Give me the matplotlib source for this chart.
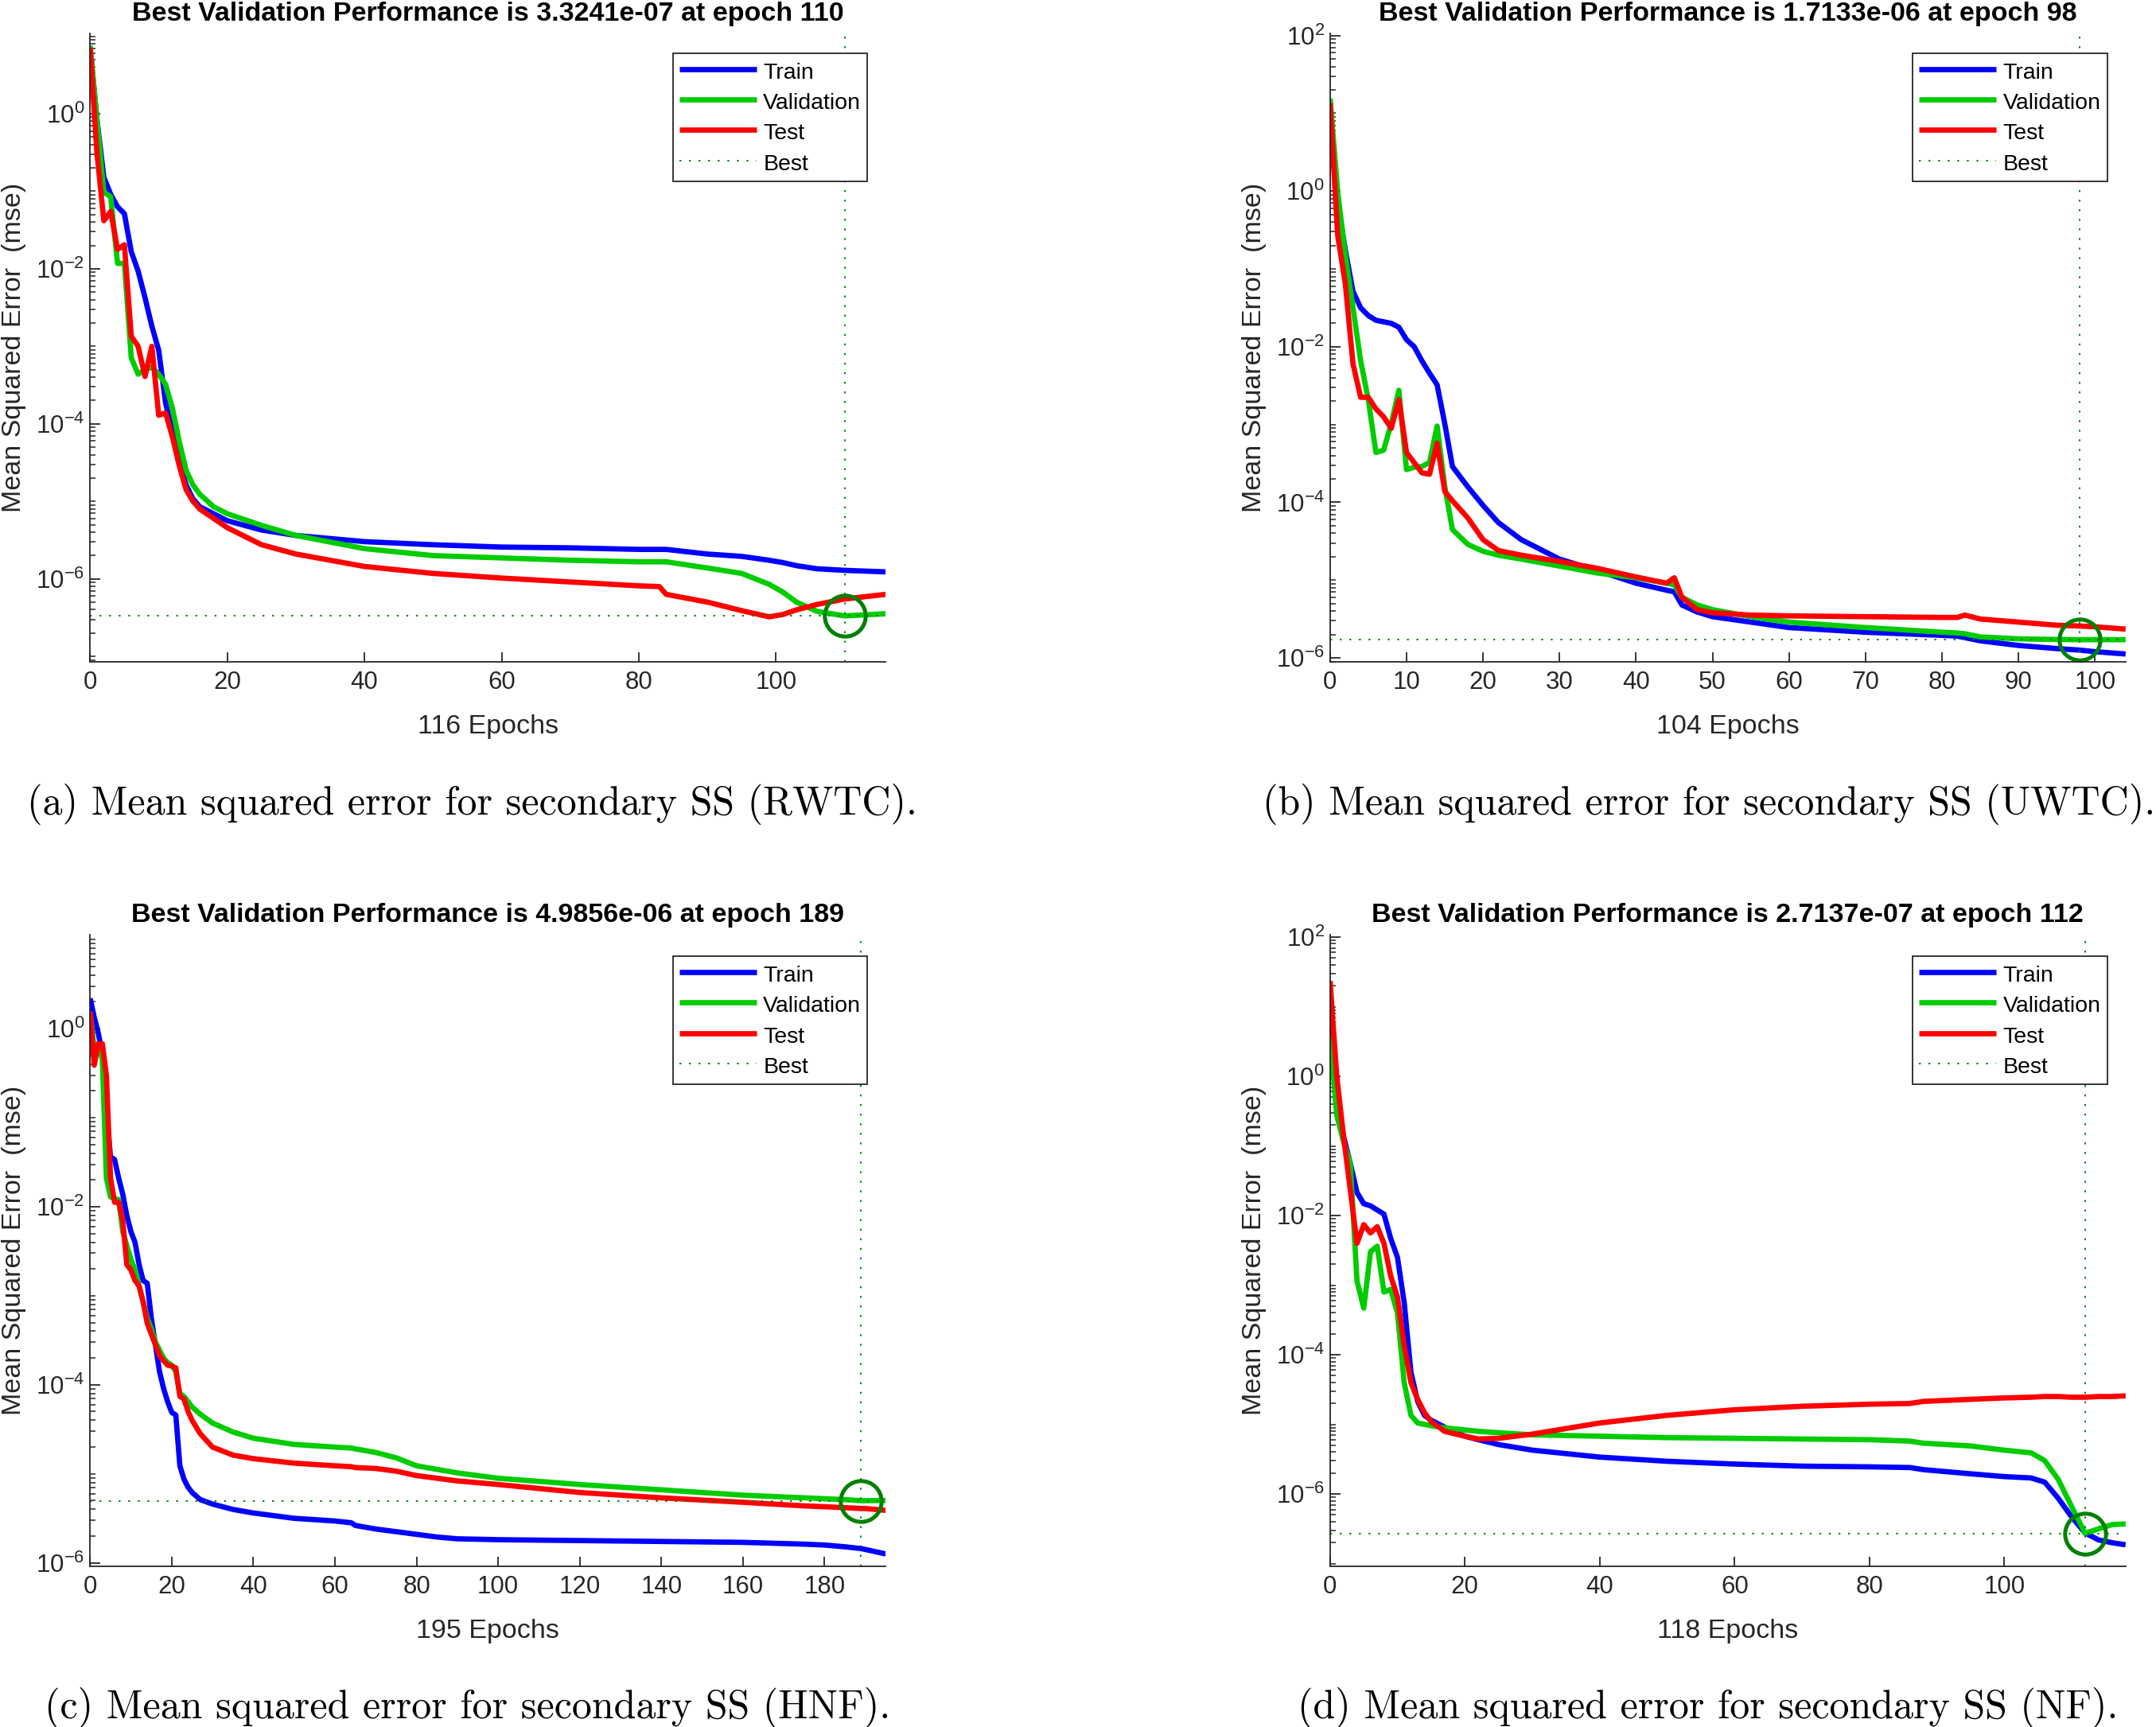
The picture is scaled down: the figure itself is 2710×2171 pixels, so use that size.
import numpy as np
import matplotlib
matplotlib.use("Agg")
import matplotlib.pyplot as plt
from matplotlib.ticker import LogLocator, FixedLocator, LogFormatterSciNotation, NullFormatter

plt.rcParams['font.family'] = ['Liberation Sans', 'DejaVu Sans']
plt.rcParams['mathtext.fontset'] = 'custom'
plt.rcParams['mathtext.rm'] = 'Liberation Sans'
plt.rcParams['mathtext.it'] = 'Liberation Sans:italic'
plt.rcParams['mathtext.bf'] = 'Liberation Sans:bold'

# ---------------- data (log10 of MSE) ----------------
# (a) RWTC
epochs_a = [0, 1, 2, 3, 4, 5, 6, 7, 8, 9, 10, 11, 12, 13, 14, 15, 16, 18, 20, 25, 30, 40, 50, 60,
            70, 80, 83, 84, 90, 95, 99, 101, 103, 106, 110, 116]
train_a = [0.85, -0.08, -0.82, -1.04, -1.2, -1.29, -1.78, -2.03, -2.37, -2.74, -3.05, -3.73, -4.1,
           -4.48, -4.79, -4.97, -5.07, -5.16, -5.25, -5.37, -5.44, -5.52, -5.56, -5.59, -5.6, -5.62,
           -5.62, -5.62, -5.68, -5.71, -5.76, -5.79, -5.83, -5.87, -5.89, -5.91]
val_a = [0.88, -0.08, -1.01, -1.07, -1.93, -1.93, -3.15, -3.36, -3.3, -3.27, -3.36, -3.49, -3.8,
         -4.23, -4.6, -4.79, -4.91, -5.07, -5.16, -5.31, -5.44, -5.61, -5.70, -5.73, -5.76, -5.78,
         -5.78, -5.78, -5.86, -5.93, -6.07, -6.17, -6.30, -6.42, -6.478, -6.45]
test_a = [0.85, -0.51, -1.38, -1.26, -1.75, -1.69, -2.87, -3.0, -3.39, -3.0, -3.89, -3.86, -4.17,
          -4.54, -4.85, -5.0, -5.1, -5.22, -5.34, -5.56, -5.68, -5.84, -5.93, -5.99, -6.04, -6.09,
          -6.1, -6.2, -6.3, -6.41, -6.49, -6.46, -6.40, -6.33, -6.26, -6.2]
best_epoch_a, best_perf_a = 110, 3.3241e-07

# (b) UWTC
epochs_b = [0, 1, 2, 3, 4, 5, 6, 7, 8, 9, 10, 11, 12, 13, 14, 15, 16, 18, 20, 22, 25, 30, 35, 40,
            44, 45, 46, 48, 50, 55, 60, 70, 80, 82, 83, 85, 90, 95, 98, 100, 104]
train_b = [1.16, -0.14, -0.76, -1.29, -1.5, -1.6, -1.66, -1.68, -1.70, -1.75, -1.91, -2.0, -2.18,
           -2.34, -2.49, -2.99, -3.54, -3.8, -4.04, -4.26, -4.48, -4.73, -4.88, -5.04, -5.13, -5.15,
           -5.32, -5.41, -5.47, -5.54, -5.61, -5.67, -5.71, -5.72, -5.74, -5.78, -5.84, -5.88, -5.90,
           -5.92, -5.95]
val_b = [1.19, -0.01, -0.82, -1.5, -2.18, -2.68, -3.36, -3.33, -2.99, -2.56, -3.58, -3.55, -3.54,
         -3.49, -3.02, -3.8, -4.35, -4.54, -4.63, -4.68, -4.73, -4.82, -4.91, -4.97, -5.04, -5.06,
         -5.22, -5.32, -5.38, -5.47, -5.54, -5.61, -5.67, -5.68, -5.69, -5.73, -5.755, -5.763,
         -5.766, -5.766, -5.766]
test_b = [1.13, -0.57, -1.19, -2.22, -2.65, -2.65, -2.8, -2.9, -3.05, -2.68, -3.36, -3.49, -3.62,
          -3.64, -3.24, -3.86, -3.98, -4.2, -4.48, -4.62, -4.68, -4.76, -4.85, -4.96, -5.04, -4.97,
          -5.22, -5.38, -5.42, -5.45, -5.46, -5.47, -5.48, -5.48, -5.45, -5.5, -5.54, -5.58, -5.59,
          -5.6, -5.63]
best_epoch_b, best_perf_b = 98, 1.7133e-06

# (c) HNF
epochs_c = [0, 1, 2, 3, 4, 5, 6, 7, 8, 9, 10, 11, 12, 13, 14, 15, 16, 17, 18, 19, 20, 21, 22, 23,
            24, 25, 27, 30, 35, 40, 50, 60, 64, 65, 70, 75, 80, 85, 90, 100, 120, 140, 160, 175,
            180, 185, 189, 190, 195]
train_c = [0.34, 0.13, -0.05, -0.29, -0.95, -1.44, -1.47, -1.68, -1.86, -2.1, -2.28, -2.4, -2.65,
           -2.83, -2.86, -3.25, -3.55, -3.85, -4.04, -4.19, -4.31, -4.34, -4.91, -5.06, -5.15,
           -5.21, -5.29, -5.34, -5.4, -5.44, -5.5, -5.53, -5.55, -5.58, -5.62, -5.65, -5.68, -5.71,
           -5.73, -5.74, -5.75, -5.76, -5.77, -5.79, -5.8, -5.82, -5.84, -5.85, -5.9]
val_c = [0.19, -0.23, -0.17, -0.35, -1.68, -1.89, -1.91, -1.92, -2.28, -2.44, -2.59, -2.71, -2.89,
         -3.07, -3.25, -3.37, -3.52, -3.61, -3.7, -3.75, -3.78, -3.85, -4.1, -4.13, -4.19, -4.25,
         -4.33, -4.43, -4.53, -4.6, -4.67, -4.7, -4.71, -4.72, -4.76, -4.82, -4.91, -4.95, -4.99,
         -5.05, -5.12, -5.18, -5.24, -5.27, -5.28, -5.29, -5.302, -5.302, -5.30]
test_c = [0.19, -0.41, -0.17, -0.17, -0.53, -1.68, -1.95, -1.95, -2.16, -2.65, -2.71, -2.83, -2.89,
          -3.07, -3.31, -3.43, -3.55, -3.67, -3.73, -3.78, -3.79, -3.81, -4.13, -4.16, -4.3, -4.4,
          -4.55, -4.7, -4.79, -4.83, -4.88, -4.91, -4.92, -4.93, -4.94, -4.97, -5.02, -5.05, -5.08,
          -5.12, -5.21, -5.27, -5.32, -5.36, -5.37, -5.38, -5.39, -5.39, -5.41]
best_epoch_c, best_perf_c = 189, 4.9856e-06

# (d) NF
epochs_d = [0, 1, 2, 3, 4, 5, 6, 7, 8, 9, 10, 11, 12, 13, 14, 15, 17, 20, 22, 25, 30, 35, 40, 50,
            60, 70, 80, 86, 88, 95, 100, 104, 106, 108, 110, 112, 114, 116, 118]
train_d = [0.75, -0.4, -0.86, -1.25, -1.67, -1.83, -1.86, -1.92, -1.98, -2.33, -2.6, -3.25, -4.25,
           -4.67, -4.87, -4.94, -5.04, -5.17, -5.22, -5.29, -5.37, -5.42, -5.47, -5.53, -5.57,
           -5.6, -5.61, -5.62, -5.65, -5.71, -5.75, -5.77, -5.83, -6.06, -6.33, -6.56, -6.66,
           -6.70, -6.73]
val_d = [0.6, -0.56, -0.94, -1.25, -2.94, -3.33, -2.52, -2.44, -3.1, -3.06, -3.4, -4.4, -4.87,
         -4.98, -5.0, -5.02, -5.05, -5.08, -5.1, -5.12, -5.15, -5.16, -5.17, -5.19, -5.2, -5.21,
         -5.22, -5.24, -5.27, -5.31, -5.37, -5.41, -5.52, -5.79, -6.18, -6.566, -6.5, -6.44, -6.43]
test_d = [1.37, 0.0, -0.86, -1.63, -2.4, -2.13, -2.25, -2.16, -2.4, -2.87, -3.17, -3.87, -4.4,
          -4.64, -4.83, -4.96, -5.1, -5.17, -5.21, -5.2, -5.14, -5.06, -4.98, -4.87, -4.79, -4.74,
          -4.71, -4.7, -4.67, -4.64, -4.62, -4.61, -4.6, -4.6, -4.61, -4.61, -4.6, -4.6, -4.59]
best_epoch_d, best_perf_d = 112, 2.7137e-07

n_epochs = [116, 104, 195, 118]
xticks_list = [[0, 20, 40, 60, 80, 100], [0, 10, 20, 30, 40, 50, 60, 70, 80, 90, 100],
               [0, 20, 40, 60, 80, 100, 120, 140, 160, 180], [0, 20, 40, 60, 80, 100]]
yticks_list = [[1e-6, 1e-4, 1e-2, 1e0], [1e-6, 1e-4, 1e-2, 1e0, 1e2],
               [1e-6, 1e-4, 1e-2, 1e0], [1e-6, 1e-4, 1e-2, 1e0, 1e2]]
ylims_log = [(-7.07, 1.04), (-6.05, 2.03), (-6.04, 1.06), (-7.04, 2.04)]
captions = ["(a) Mean squared error for secondary SS (RWTC).",
            "(b) Mean squared error for secondary SS (UWTC).",
            "(c) Mean squared error for secondary SS (HNF).",
            "(d) Mean squared error for secondary SS (NF)."]
legend_labels = ["Train", "Validation", "Test", "Best"]

panels = [
    (epochs_a, train_a, val_a, test_a, best_epoch_a, best_perf_a),
    (epochs_b, train_b, val_b, test_b, best_epoch_b, best_perf_b),
    (epochs_c, train_c, val_c, test_c, best_epoch_c, best_perf_c),
    (epochs_d, train_d, val_d, test_d, best_epoch_d, best_perf_d),
]

# ---------------- layout ----------------
W, H = 2710, 2171
fig = plt.figure(figsize=(W / 100, H / 100), dpi=100)
axw = 0.369
positions = [[0.0418, 0.6168, axw, 0.3640], [0.6169, 0.6168, axw, 0.3640],
             [0.0418, 0.0930, axw, 0.3660], [0.6169, 0.0930, axw, 0.3660]]
legend_anchor = [(0.977, 0.968), (0.977, 0.968), (0.977, 0.965), (0.977, 0.965)]
caption_xy = [(0.0125, 0.5282), (0.5855, 0.5282), (0.0207, 0.0052), (0.6020, 0.0052)]

C_TRAIN = (0, 0, 1)
C_VAL = (0, 0.8, 0)
C_TEST = (1, 0, 0)
C_BEST = (0, 0.5, 0)
AX_COL = '#262626'
LW = 4.8

for i, (ep, tr, va, te, be, bp) in enumerate(panels):
    ax = fig.add_axes(positions[i])
    ep = np.asarray(ep)
    l1, = ax.plot(ep, 10 ** np.asarray(tr), color=C_TRAIN, lw=LW, solid_joinstyle='round',
                  solid_capstyle='butt')
    l2, = ax.plot(ep, 10 ** np.asarray(va), color=C_VAL, lw=LW, solid_joinstyle='round',
                  solid_capstyle='butt')
    l3, = ax.plot(ep, 10 ** np.asarray(te), color=C_TEST, lw=LW, solid_joinstyle='round',
                  solid_capstyle='butt')
    ylo, yhi = 10 ** ylims_log[i][0], 10 ** ylims_log[i][1]
    l4, = ax.plot([be, be], [ylo, yhi], color=C_BEST, lw=1.4, ls=(0, (1.2, 5)))
    ax.plot([0, n_epochs[i]], [bp, bp], color=C_BEST, lw=1.4, ls=(0, (1.2, 5)))
    ax.plot([be], [bp], marker='o', ms=37, mfc='none', mec=C_BEST, mew=3.6, ls='none')

    ax.set_yscale('log')
    ax.set_xlim(0, n_epochs[i])
    ax.set_ylim(ylo, yhi)
    ax.xaxis.set_major_locator(FixedLocator(xticks_list[i]))
    ax.yaxis.set_major_locator(FixedLocator(yticks_list[i]))
    ax.yaxis.set_major_formatter(LogFormatterSciNotation())
    ax.yaxis.set_minor_locator(LogLocator(base=10, subs=np.arange(1, 10), numticks=100))
    ax.yaxis.set_minor_formatter(NullFormatter())

    for s in ['top', 'right']:
        ax.spines[s].set_visible(False)
    for s in ['left', 'bottom']:
        ax.spines[s].set_color(AX_COL)
        ax.spines[s].set_linewidth(1.3)
    ax.tick_params(axis='both', which='major', direction='in', length=9, width=1.3,
                   colors=AX_COL, labelsize=22.5, pad=8)
    ax.tick_params(axis='y', which='minor', direction='in', length=5, width=1.1, colors=AX_COL)
    ax.tick_params(axis='y', which='major', pad=5)

    ax.set_title(
        "Best Validation Performance is %.4e at epoch %d" % (bp, be),
        fontsize=24.5, fontweight='bold', pad=11, color='black')
    ax.set_xlabel("%d Epochs" % n_epochs[i], fontsize=24.5, color=AX_COL)
    ax.xaxis.set_label_coords(0.5, -0.083)
    ax.set_ylabel("Mean Squared Error  (mse)", fontsize=24.5, color=AX_COL)
    ax.yaxis.set_label_coords(-0.080, 0.5)

    leg = ax.legend([l1, l2, l3, l4], legend_labels, loc='upper right',
                    bbox_to_anchor=legend_anchor[i], borderaxespad=0, fontsize=20.5,
                    handlelength=3.4, handleheight=1.15, handletextpad=0.3, labelspacing=0.3,
                    borderpad=0.28, fancybox=False, framealpha=1, edgecolor=AX_COL)
    leg.get_frame().set_linewidth(1.3)

    fig.text(caption_xy[i][0], caption_xy[i][1], captions[i], family='cmr10', fontsize=36,
             ha='left', va='baseline', color='black')

fig.savefig("out.png", dpi=100)
